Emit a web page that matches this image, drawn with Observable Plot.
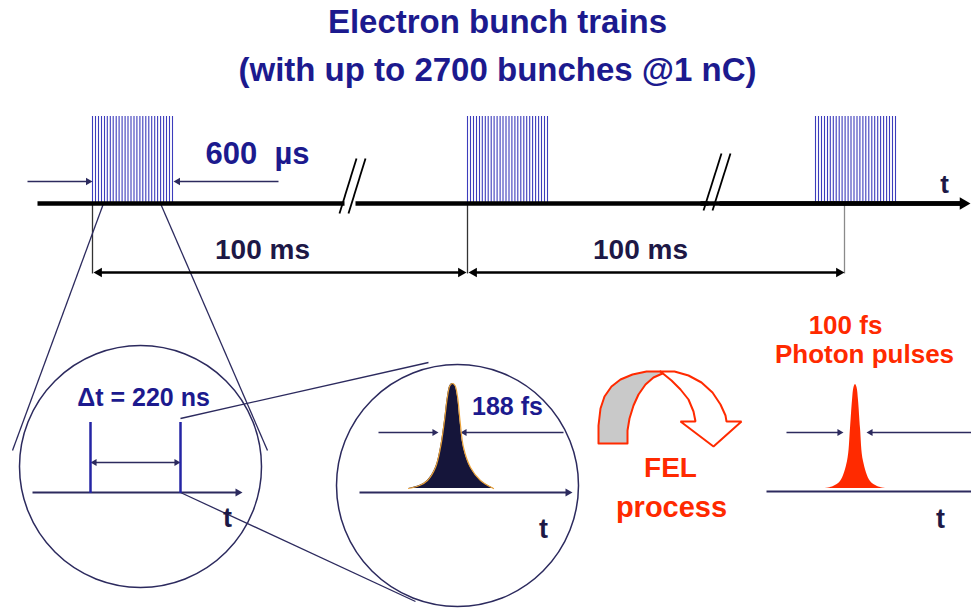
<!DOCTYPE html>
<html><head><meta charset="utf-8">
<script src="https://cdn.jsdelivr.net/npm/d3@7"></script>
<script src="https://cdn.jsdelivr.net/npm/@observablehq/plot@0.6"></script>
<style>
html,body{margin:0;padding:0;background:#fff;}
body{width:971px;height:609px;overflow:hidden;font-family:"Liberation Sans",Arial,sans-serif;}
#title{position:relative;height:100px;color:#1c1a8e;font-weight:bold;font-size:33px;line-height:33px;}
#title div{position:absolute;left:24px;right:0;text-align:center;white-space:nowrap;}
#chart svg{display:block;}
</style></head><body>
<div id="title"><div style="top:5px">Electron bunch trains</div><div style="top:53px">(with up to 2700 bunches @1 nC)</div></div>
<div id="chart"></div>
<script>
// ---------- colours ----------
const navy = "#1c1a8e", ink = "#1d1846", lineInk = "#2c2a5e", bunchBlue = "#3c3cbc", red = "#ff2a00";

// ---------- data (schematic units = pixels of the 971x609 picture) ----------
const trainStart = [92, 467, 815];
const bunchOffset = [0, 3, 6, 9, 12, 14.8, 17.8, 20.7, 23.7, 26.6, 29.6, 32.6, 35.5, 38.5, 41.5, 44.4, 47.4, 50.3, 53.3, 56.3, 59.2, 62.2, 65.1, 68.1, 71.1, 74, 77, 80];
const timelineSegments = [[37, 344], [355, 708], [719, 962]];
const breakSlashes = [[339, 213, 356, 158], [348, 213, 365, 158], [703, 210, 721, 153], [712, 210, 730, 153]];
const periodTicks = [[92, "#333"], [467, "#333"], [844, "#8a8a8a"]];
const zoomGuides = [[103, 203, 12, 450], [160, 203, 267, 450], [180, 418, 428, 362], [180, 492, 415, 601]];
const magnifiers = [[140, 466], [457, 485]];
const deltaPulses = [90, 180];
// arrows: x1 -> x2 (tip), y, head at start too?, stroke width, head radius, colour
const arrows = [
  [27, 92, 181, false, 1.5, 2.8, lineInk],
  [278, 173, 181, false, 1.5, 2.8, lineInk],
  [93, 466, 272, true, 2.4, 3.6, "#000"],
  [468, 844, 272, true, 2.4, 3.6, "#000"],
  [90, 180, 462, true, 1.4, 2.6, lineInk],
  [32, 242, 492, false, 2, 3, lineInk],
  [378, 438, 432, false, 1.5, 2.6, lineInk],
  [563, 460, 432, false, 1.5, 2.6, lineInk],
  [359, 572, 492, false, 2, 3, lineInk],
  [786, 843, 432, false, 1.5, 2.6, lineInk],
  [975, 866, 432, false, 1.5, 2.6, lineInk],
  [766, 985, 491, false, 2, 3, lineInk],
  [700, 970, 203, false, 4.5, 4.6, "#000"]
];
// pulse profiles: offset from centre, height above baseline
const electronPulseDx = [-44, -33, -25, -17, -12, -8, -5, -2.5, 0, 2.5, 5, 7.5, 11, 18, 28, 41];
const electronPulseH  = [0, 3, 8, 21, 41, 68, 92, 103, 105, 103, 92, 68, 41, 21, 8, 0];
const photonPulseDx = [-30, -22, -15, -8, -5, -3, -1.5, 0, 1.5, 3, 5, 8, 15, 22, 30];
const photonPulseH  = [0, 2, 7, 27, 60, 88, 101, 104, 101, 88, 60, 27, 7, 2, 0];
// FEL curved arrow outline
const felBack = [[598,443],[598,425],[600,408],[604,396],[611,386],[620,379],[632,374],[646,371],[660,371],[662,373],[653,377],[645,384],[638,394],[633,405],[629,418],[627,430],[627,443],[598,443]];
const felFront = [[660,371],[674,371],[688,375],[701,382],[712,392],[720,404],[725,415],[726,421],[741,421],[713,446],[680,421],[695,421],[693,411],[688,399],[680,389],[671,380],[660,371]];
// labels: text, x, baseline y, size, colour
const labels = [
  ["600  \u00b5s", 257, 163, 31, navy],
  ["100 ms", 262, 258, 28, ink],
  ["100 ms", 640, 258, 28, ink],
  ["t", 944, 192, 26, ink],
  ["\u0394t = 220 ns", 143, 405, 25, navy],
  ["t", 227, 526, 27, ink],
  ["188 fs", 507, 414, 25, navy],
  ["t", 543, 537, 27, ink],
  ["FEL", 670, 476, 28, red],
  ["process", 671, 516, 29, red],
  ["100 fs", 845, 333, 26, red],
  ["Photon pulses", 864, 362, 26, red],
  ["t", 940, 527, 27, ink]
];

// ---------- derived tables ----------
const bunches = trainStart.flatMap(s => bunchOffset.map(o => ({x: s + o})));
const K = 1.555; // tip distance of a Plot triangle symbol per unit radius
const shafts = [], heads = [];
for (const [x1, x2, y, both, w, r, c] of arrows) {
  const dir = Math.sign(x2 - x1);
  const off = K * r;
  shafts.push({x1: both ? x1 + dir * off : x1, x2: x2 - dir * off, y, w, c});
  heads.push({x: x2 - dir * off, y, rot: dir > 0 ? 90 : -90, r, c});
  if (both) heads.push({x: x1 + dir * off, y, rot: dir > 0 ? -90 : 90, r, c});
}
const electronPulse = electronPulseDx.map((d, i) => ({x: 452 + d, h: electronPulseH[i]}));
const photonPulse = photonPulseDx.map((d, i) => ({x: 855 + d, h: photonPulseH[i]}));
const font = "Liberation Sans, Arial, sans-serif";

const headMarks = [...new Set(heads.map(h => h.r))].map(r =>
  Plot.dot(heads.filter(h => h.r === r), {x: "x", y: "y", symbol: "triangle", rotate: "rot", r, fill: "c", stroke: "none"}));

const chart = Plot.plot({
  width: 971, height: 509, margin: 0,
  x: {domain: [0, 971], axis: null},
  y: {domain: [609, 100], axis: null},
  color: {type: "identity"},
  style: {background: "#fff"},
  marks: [
    Plot.ruleX(bunches, {x: "x", y1: 116, y2: 203, stroke: bunchBlue, strokeWidth: 1.1}),
    Plot.link(periodTicks, {x1: d => d[0], x2: d => d[0], y1: 203, y2: 273, stroke: d => d[1], strokeWidth: 1.3}),
    Plot.link(zoomGuides, {x1: d => d[0], y1: d => d[1], x2: d => d[2], y2: d => d[3], stroke: lineInk, strokeWidth: 1.3}),
    Plot.link(timelineSegments, {x1: d => d[0], x2: d => d[1], y1: 203, y2: 203, stroke: "#000", strokeWidth: 4.5}),
    Plot.link(breakSlashes, {x1: d => d[0], y1: d => d[1], x2: d => d[2], y2: d => d[3], stroke: "#000", strokeWidth: 1.8}),
    Plot.dot(magnifiers, {x: d => d[0], y: d => d[1], r: 121, stroke: lineInk, strokeWidth: 1.5, fill: "none"}),
    Plot.link(shafts, {x1: "x1", x2: "x2", y1: "y", y2: "y", stroke: "c", strokeWidth: "w"}),
    ...headMarks,
    Plot.ruleX(deltaPulses, {x: d => d, y1: 422, y2: 493, stroke: "#2424a4", strokeWidth: 2.5}),
    Plot.areaY(electronPulse, {x: "x", y1: 488, y2: d => 488 - d.h, fill: "#15153a", curve: "catmull-rom"}),
    Plot.line(electronPulse, {x: "x", y: d => 488 - d.h, stroke: "#eaa23a", strokeWidth: 1.2, curve: "catmull-rom"}),
    Plot.areaY(photonPulse, {x: "x", y1: 488, y2: d => 488 - d.h, fill: "#ff2a00", curve: "catmull-rom"}),
    Plot.line(felBack, {x: d => d[0], y: d => d[1], fill: "#c9c9c9", stroke: red, strokeWidth: 2, curve: "linear"}),
    Plot.line(felFront, {x: d => d[0], y: d => d[1], fill: "#fff", stroke: red, strokeWidth: 2, curve: "linear", strokeLinejoin: "miter"}),
    Plot.text(labels, {x: d => d[1], y: d => d[2], text: d => d[0], fontSize: d => d[3], fill: d => d[4],
      fontWeight: "bold", fontFamily: font, textAnchor: "middle", lineAnchor: "bottom"})
  ]
});
document.getElementById("chart").appendChild(chart);
</script>
</body></html>
